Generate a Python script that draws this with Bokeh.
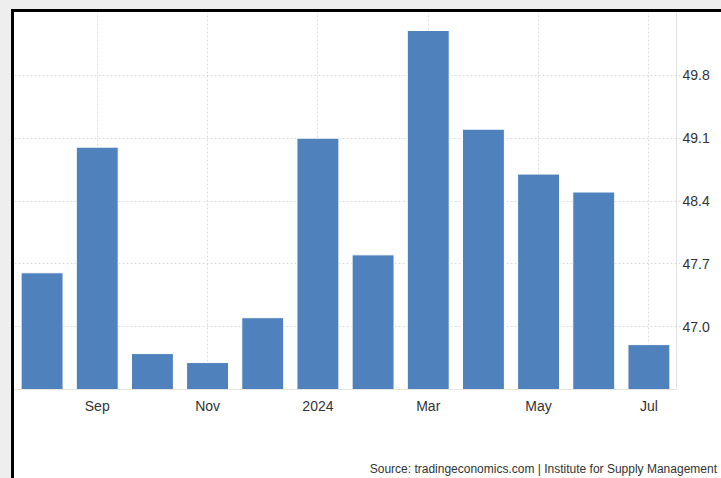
from bokeh.plotting import figure
from bokeh.layouts import column
from bokeh.models import Range1d, FixedTicker, NumeralTickFormatter, Div
from bokeh.embed import file_html
from bokeh.resources import INLINE

# ISM Manufacturing PMI, Aug 2023 - Jul 2024
months = ["Aug", "Sep", "Oct", "Nov", "Dec", "Jan", "Feb", "Mar", "Apr", "May", "Jun", "Jul"]
values = [47.6, 49.0, 46.7, 46.6, 47.1, 49.1, 47.8, 50.3, 49.2, 48.7, 48.5, 46.8]
tick_positions = [1, 3, 5, 7, 9, 11]
tick_labels = ["Sep", "Nov", "2024", "Mar", "May", "Jul"]
y_ticks = [47.0, 47.7, 48.4, 49.1, 49.8]
source_text = "Source: tradingeconomics.com | Institute for Supply Management"

y_lo, y_hi = 46.3, 50.5
PANEL_W = 707
SRC_H = 26

p = figure(
    width=PANEL_W, height=466 - SRC_H,
    x_range=Range1d(-0.5, len(months) - 0.5),
    y_range=Range1d(y_lo, y_hi),
    y_axis_location="right",
    output_backend="svg", toolbar_location=None,
    min_border_left=0, min_border_top=0, min_border_right=45, min_border_bottom=63,
    border_fill_color="white", background_fill_color="white",
)
p.outline_line_color = None

xs = list(range(len(months)))
p.vbar(x=xs, top=values, bottom=y_lo, width=0.76, fill_color="#4f81bd",
       line_color="white", line_width=1)

grid_color = "#dcdcdc"
p.xgrid.ticker = FixedTicker(ticks=tick_positions)
p.xgrid.grid_line_color = grid_color
p.xgrid.grid_line_dash = "2 2"
p.ygrid.grid_line_color = grid_color
p.ygrid.grid_line_dash = "2 2"

p.xaxis.ticker = FixedTicker(ticks=tick_positions)
p.xaxis.major_label_overrides = {t: l for t, l in zip(tick_positions, tick_labels)}
p.xaxis.axis_line_color = "#e4e4e4"
p.xaxis.major_tick_line_color = None
p.xaxis.minor_tick_line_color = None
p.xaxis.major_label_standoff = 2

p.yaxis.ticker = FixedTicker(ticks=y_ticks)
p.yaxis.formatter = NumeralTickFormatter(format="0.0")
p.yaxis.axis_line_color = "#e4e4e4"
p.yaxis.major_tick_line_color = "#dcdcdc"
p.yaxis.major_tick_line_dash = "2 2"
p.yaxis.major_tick_out = 4
p.yaxis.major_tick_in = 0
p.yaxis.minor_tick_line_color = None
p.yaxis.major_label_standoff = 2

for ax in (p.xaxis, p.yaxis):
    ax.major_label_text_font = "Liberation Sans"
    ax.major_label_text_font_size = "14px"
    ax.major_label_text_color = "#333333"

src = Div(
    text=('<div style="width:705px;text-align:right;padding:9px 2px 0 0;'
          'font-family:\'Liberation Sans\';font-size:12px;color:#333333;white-space:nowrap">'
          + source_text + '</div>'),
    width=PANEL_W, height=SRC_H,
    styles={"background-color": "white", "margin": "0"},
)

panel = column(p, src, spacing=0,
               styles={"border-left": "3px solid #000", "border-top": "3px solid #000",
                       "background-color": "white"})
page = column(panel, styles={"background-color": "#eeeeee", "padding": "9px 0 0 11px"})

open("out.html", "w").write(file_html(page, INLINE))
